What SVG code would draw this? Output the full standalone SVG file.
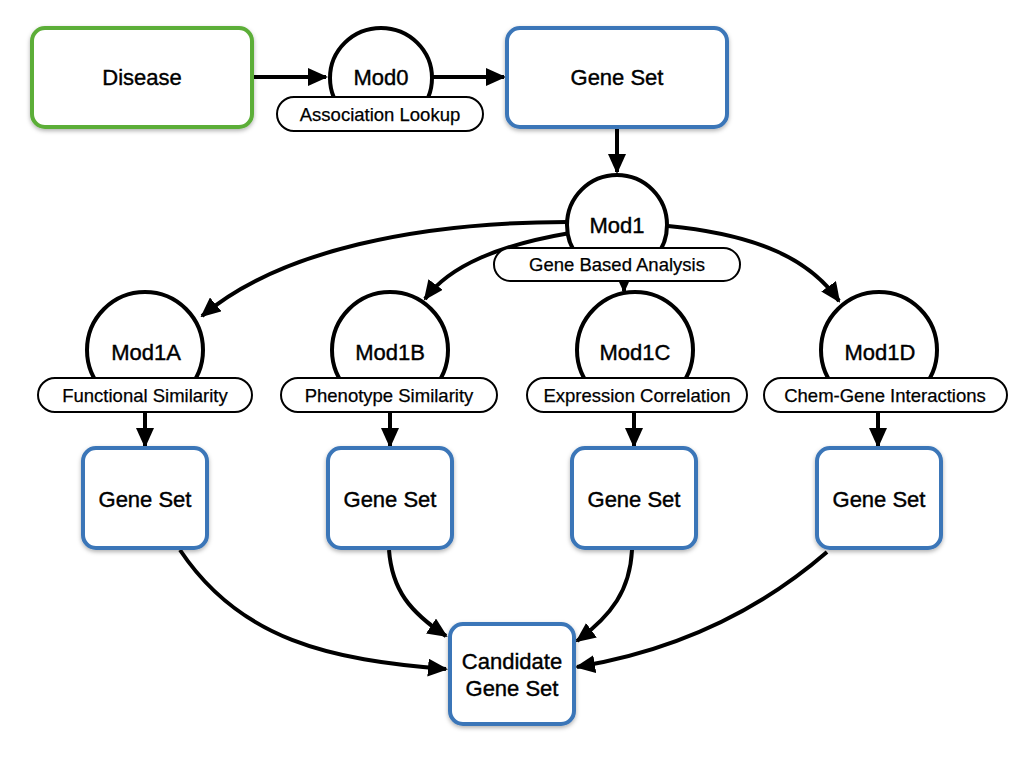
<svg xmlns="http://www.w3.org/2000/svg" width="1024" height="768" viewBox="0 0 1024 768">
<style>
.box{fill:#fff;stroke:#3B76B8;stroke-width:4;filter:url(#sh)}
.green{stroke:#5CAE38}
.mod{fill:#fff;stroke:#000;stroke-width:4}
.pill{fill:#fff;stroke:#000;stroke-width:2}
.t{font-family:"Liberation Sans",Arial,sans-serif;font-size:22px;fill:#000;stroke:#000;stroke-width:0.4;text-anchor:middle}
.s{font-family:"Liberation Sans",Arial,sans-serif;font-size:18.5px;fill:#000;stroke:#000;stroke-width:0.25;text-anchor:middle}
.c{fill:none;stroke:#000;stroke-width:4;marker-end:url(#ah)}
</style>
<defs>
<marker id="ah" viewBox="0 0 20 18" refX="18" refY="9" markerWidth="20" markerHeight="18" markerUnits="userSpaceOnUse" orient="auto">
<path d="M0,0 L20,9 L0,18 z" fill="#000"/>
</marker>
<filter id="sh" x="-20%" y="-20%" width="140%" height="140%">
<feDropShadow dx="0" dy="2" stdDeviation="2" flood-color="#000" flood-opacity="0.3"/>
</filter>
</defs>
<rect width="1024" height="768" fill="#fff"/>
<g id="connectors">
<path class="c" d="M254,77 L326,77"/>
<path class="c" d="M433,77 L504,77"/>
<path class="c" d="M617,129 L617,172"/>
<path class="c" d="M567,222 C420,222 280,250 202,316"/>
<path class="c" d="M570,233 C500,245 450,265 425,299"/>
<path class="c" d="M624,270 L624,291"/>
<path class="c" d="M668,226 C760,235 810,260 839,301"/>
<path class="c" d="M145,413 L145,446"/>
<path class="c" d="M390,413 L390,446"/>
<path class="c" d="M634,413 L634,446"/>
<path class="c" d="M878,413 L878,446"/>
<path class="c" d="M180,550 C240,640 330,660 446,669"/>
<path class="c" d="M389,550 C392,590 410,612 446,636"/>
<path class="c" d="M632,550 C630,590 612,615 577,641"/>
<path class="c" d="M827,552 C760,610 680,650 577,667"/>
</g>
<g id="disease">
<rect class="box green" x="32" y="28" width="220" height="99" rx="13"/>
<text class="t" x="142" y="85">Disease</text>
</g>
<g id="mod0">
<ellipse class="mod" cx="381" cy="78" rx="51" ry="50"/>
<text class="t" x="381" y="85">Mod0</text>
<rect class="pill" x="277" y="97" width="206" height="34" rx="17"/>
<text class="s" x="380" y="121">Association Lookup</text>
</g>
<g id="geneset0">
<rect class="box" x="507" y="28" width="220" height="99" rx="13"/>
<text class="t" x="617" y="85">Gene Set</text>
</g>
<g id="mod1">
<ellipse class="mod" cx="617" cy="225" rx="50" ry="50"/>
<text class="t" x="617" y="233">Mod1</text>
<rect class="pill" x="494" y="248" width="246" height="33" rx="16.5"/>
<text class="s" x="617" y="271">Gene Based Analysis</text>
</g>
<g id="mod1a">
<ellipse class="mod" cx="145" cy="350" rx="58" ry="58"/>
<text class="t" x="146" y="360">Mod1A</text>
<rect class="pill" x="38" y="378" width="214" height="34" rx="17"/>
<text class="s" x="145" y="402">Functional Similarity</text>
</g>
<g id="mod1b">
<ellipse class="mod" cx="390" cy="350" rx="58" ry="58"/>
<text class="t" x="390" y="360">Mod1B</text>
<rect class="pill" x="281" y="378" width="216" height="34" rx="17"/>
<text class="s" x="389" y="402">Phenotype Similarity</text>
</g>
<g id="mod1c">
<ellipse class="mod" cx="635" cy="350" rx="58" ry="58"/>
<text class="t" x="635" y="360">Mod1C</text>
<rect class="pill" x="527" y="378" width="220" height="34" rx="17"/>
<text class="s" x="637" y="402">Expression Correlation</text>
</g>
<g id="mod1d">
<ellipse class="mod" cx="879" cy="350" rx="58" ry="58"/>
<text class="t" x="880" y="360">Mod1D</text>
<rect class="pill" x="764" y="378" width="243" height="34" rx="17"/>
<text class="s" x="885" y="402">Chem-Gene Interactions</text>
</g>
<g id="geneset1a">
<rect class="box" x="83" y="448" width="124" height="100" rx="13"/>
<text class="t" x="145" y="507">Gene Set</text>
</g>
<g id="geneset1b">
<rect class="box" x="328" y="448" width="124" height="100" rx="13"/>
<text class="t" x="390" y="507">Gene Set</text>
</g>
<g id="geneset1c">
<rect class="box" x="572" y="448" width="124" height="100" rx="13"/>
<text class="t" x="634" y="507">Gene Set</text>
</g>
<g id="geneset1d">
<rect class="box" x="817" y="448" width="124" height="100" rx="13"/>
<text class="t" x="879" y="507">Gene Set</text>
</g>
<g id="candidate">
<rect class="box" x="450" y="624" width="124" height="100" rx="13"/>
<text class="t" x="512" y="669">Candidate</text>
<text class="t" x="512" y="696">Gene Set</text>
</g>
</svg>
